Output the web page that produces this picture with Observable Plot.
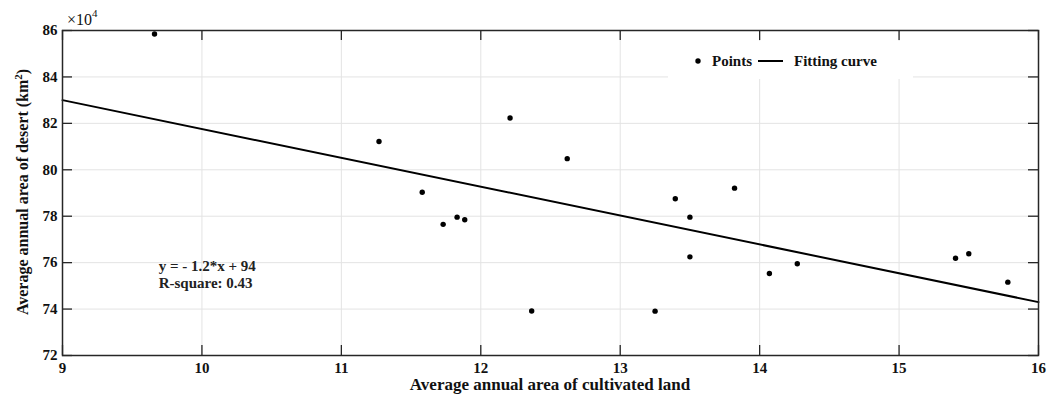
<!DOCTYPE html>
<html><head><meta charset="utf-8">
<script src="https://cdn.jsdelivr.net/npm/d3@7"></script>
<script src="https://cdn.jsdelivr.net/npm/@observablehq/plot@0.6"></script>
<style>
body{margin:0;background:#fff}
#chart{width:1054px;height:396px;overflow:hidden}
svg{font-family:"Liberation Serif","Times New Roman",serif;font-weight:bold}
</style>
</head><body><div id="chart"></div>
<script>
// Data
const cultivated = [9.66, 11.27, 11.58, 11.73, 11.83, 11.885, 12.21, 12.365, 12.62, 13.25, 13.395, 13.50, 13.50, 13.82, 14.07, 14.27, 15.405, 15.50, 15.78];
const desert = [85.85, 81.22, 79.03, 77.65, 77.96, 77.85, 82.23, 73.92, 80.48, 73.91, 78.75, 77.96, 76.25, 79.21, 75.53, 75.95, 76.19, 76.38, 75.16];
const fitX = [9, 16];
const fitY = [83.0, 74.3];
const xTicks = [9, 10, 11, 12, 13, 14, 15, 16];
const yTicks = [72, 74, 76, 78, 80, 82, 84, 86];
const xTitle = "Average annual area of cultivated land";
const yTitle = "Average annual area of desert (km";
const yTitleSup = "2";
const yTitleEnd = ")";
const annotationLines = ["y = - 1.2*x + 94", "R-square: 0.43"];
const annotationAt = {x: 9.69, y: 75.5};
const legendItems = ["Points", "Fitting curve"];

const points = cultivated.map((c, i) => ({x: c, y: desert[i]}));
const fit = fitX.map((x, i) => ({x, y: fitY[i]}));

const W = 1054, H = 396;
const mL = 62, mR = 16, mT = 30, mB = 41;
const innerW = W - mL - mR, innerH = H - mT - mB;
const tickLen = 10;
const axisColor = "#262626";
const gridColor = "#e3e3e3";
const fmt = d => String(d);

const chart = Plot.plot({
  width: W,
  height: H,
  marginLeft: mL,
  marginRight: mR,
  marginTop: mT,
  marginBottom: mB,
  style: {fontFamily: "Liberation Serif, serif", fontWeight: "bold", fontSize: "15px", background: "#fff", color: axisColor},
  x: {domain: [9, 16]},
  y: {domain: [72, 86]},
  marks: [
    Plot.gridX(xTicks, {stroke: gridColor, strokeOpacity: 1, strokeWidth: 1}),
    Plot.gridY(yTicks, {stroke: gridColor, strokeOpacity: 1, strokeWidth: 1}),
    // inward tick marks on all four sides
    Plot.tickX(xTicks, {x: d => d, insetTop: innerH - tickLen, stroke: axisColor, strokeWidth: 1.3}),
    Plot.tickX(xTicks, {x: d => d, insetBottom: innerH - tickLen, stroke: axisColor, strokeWidth: 1.3}),
    Plot.tickY(yTicks, {y: d => d, insetRight: innerW - tickLen, stroke: axisColor, strokeWidth: 1.3}),
    Plot.tickY(yTicks, {y: d => d, insetLeft: innerW - tickLen, stroke: axisColor, strokeWidth: 1.3}),
    Plot.line(fit, {x: "x", y: "y", stroke: "#000", strokeWidth: 2}),
    Plot.dot(points, {x: "x", y: "y", r: 2.7, fill: "#000", stroke: null}),
    Plot.text([annotationLines.join("\n")], {x: () => annotationAt.x, y: () => annotationAt.y, text: d => d, textAnchor: "start", lineAnchor: "middle", lineHeight: 1.15, fontSize: 15, fill: "#222"}),
    Plot.axisX(xTicks, {anchor: "bottom", tickSize: 0, tickPadding: 7, tickFormat: fmt, label: null, fill: "#111"}),
    Plot.axisY(yTicks, {anchor: "left", tickSize: 0, tickPadding: 5, tickFormat: fmt, label: null, fill: "#111"}),
    Plot.frame({stroke: axisColor, strokeWidth: 1.5})
  ]
});

const svg = d3.select(chart);

// x-axis title
svg.append("text")
  .attr("x", 550).attr("y", 390)
  .attr("text-anchor", "middle")
  .attr("font-size", 17).attr("fill", "#111")
  .text(xTitle);

// y-axis title with superscript
const yt = svg.append("text")
  .attr("transform", "translate(28,192) rotate(-90)")
  .attr("text-anchor", "middle")
  .attr("font-size", 16).attr("fill", "#111");
yt.append("tspan").text(yTitle);
yt.append("tspan").attr("dy", -6).attr("font-size", 11).text(yTitleSup);
yt.append("tspan").attr("dy", 6).text(yTitleEnd);

// exponent label
const ex = svg.append("text")
  .attr("x", 67).attr("y", 25)
  .attr("text-anchor", "start")
  .attr("font-size", 16).attr("font-weight", "normal").attr("fill", "#111");
ex.append("tspan").text("\u00d710");
ex.append("tspan").attr("dy", -8).attr("font-size", 11).text("4");

// legend
const lg = svg.append("g").attr("text-anchor", "start");
lg.append("rect").attr("x", 668).attr("y", 41).attr("width", 245).attr("height", 38).attr("fill", "#fff");
lg.append("circle").attr("cx", 698).attr("cy", 61).attr("r", 2.7).attr("fill", "#000");
lg.append("text").attr("x", 712).attr("y", 61).attr("dy", "0.35em").attr("font-size", 15).attr("fill", "#111").text(legendItems[0]);
lg.append("line").attr("x1", 758).attr("x2", 783).attr("y1", 61).attr("y2", 61).attr("stroke", "#000").attr("stroke-width", 2);
lg.append("text").attr("x", 794).attr("y", 61).attr("dy", "0.35em").attr("font-size", 15).attr("fill", "#111").text(legendItems[1]);

document.getElementById("chart").appendChild(chart);
</script>
</body></html>
